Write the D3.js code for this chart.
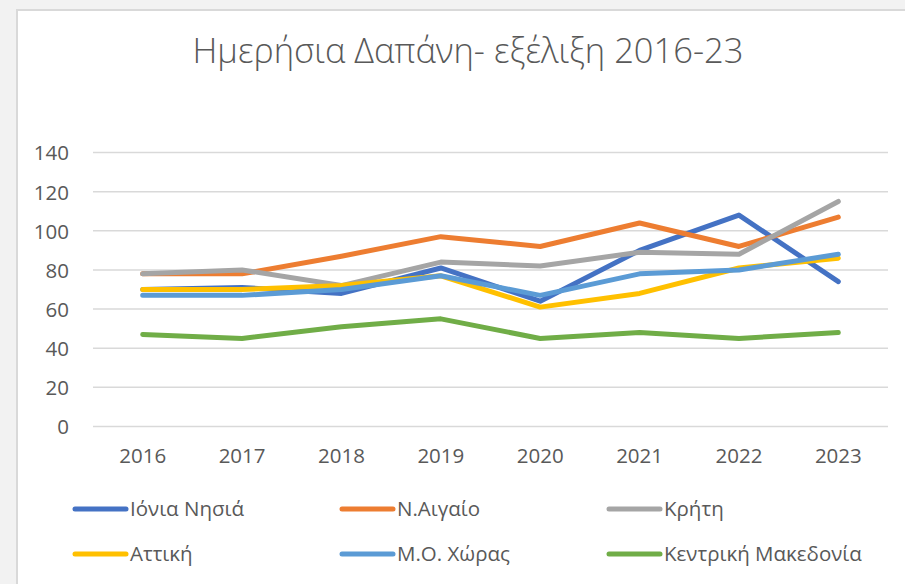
<!DOCTYPE html>
<html>
<head>
<meta charset="utf-8">
<script src="https://cdn.jsdelivr.net/npm/d3@7"></script>
<style>
  body { margin: 0; background: #f2f2f2; }
  text { font-family: "Open Sans", "Noto Sans", sans-serif; fill: #595959; }
</style>
</head>
<body>
<div id="chart"></div>
<script>

var years = [ "2016", "2017", "2018", "2019", "2020", "2021", "2022", "2023" ];
var yTicks = [ 0, 20, 40, 60, 80, 100, 120, 140 ];

var seriesNames = [ "Ιόνια Νησιά", "Ν.Αιγαίο", "Κρήτη", "Αττική", "Μ.Ο. Χώρας", "Κεντρική Μακεδονία" ];
var seriesColors = [ "#4472c4", "#ed7d31", "#a5a5a5", "#ffc000", "#5b9bd5", "#70ad47" ];

var ionia = [ 70, 71, 68, 81, 64, 90, 108, 74 ];
var naigaio = [ 78, 78, 87, 97, 92, 104, 92, 107 ];
var kriti = [ 78, 80, 72, 84, 82, 89, 88, 115 ];
var attiki = [ 70, 70, 72, 77, 61, 68, 81, 86 ];
var mochoras = [ 67, 67, 70, 77, 67, 78, 80, 88 ];
var kmakedonia = [ 47, 45, 51, 55, 45, 48, 45, 48 ];

var seriesValues = [ ionia, naigaio, kriti, attiki, mochoras, kmakedonia ];

var width = 905, height = 584;

var svg = d3.select("#chart").append("svg")
		.attr("width", width).attr("height", height);

// chart frame
svg.append("rect").attr("x", 17).attr("y", 10)
		.attr("width", width).attr("height", height)
		.attr("fill", "#ffffff").attr("stroke", "#d9d9d9").attr("stroke-width", 2);

// title
svg.append("text").attr("x", 468).attr("y", 63)
		.attr("text-anchor", "middle").style("font-size", "34.5px")
		.style("font-weight", 300)
		.text("Ημερήσια Δαπάνη- εξέλιξη 2016-23");

var x = d3.scaleBand().domain(years).range([ 93, 888 ]);
var y = d3.scaleLinear().domain([ 0, 140 ]).range([ 426.5, 152.5 ]);

// gridlines
svg.append("g").selectAll("line").data(yTicks).enter().append("line")
		.attr("x1", 93).attr("x2", 888)
		.attr("y1", function(d) { return y(d); })
		.attr("y2", function(d) { return y(d); })
		.attr("stroke", "#d9d9d9").attr("stroke-width", 1.5);

// y axis labels
var yAxis = d3.axisLeft(y).tickValues(yTicks).tickSize(0).tickPadding(0);
var gy = svg.append("g").attr("transform", "translate(69,0)").call(yAxis);
gy.select(".domain").remove();
gy.selectAll("text").style("font-size", "20.5px").attr("fill", "#595959")
		.attr("font-family", null).attr("dy", "0.36em");

// x axis labels
var xAxis = d3.axisBottom(x).tickSize(0).tickPadding(0);
var gx = svg.append("g").attr("transform", "translate(0,442)").call(xAxis);
gx.select(".domain").remove();
gx.selectAll("text").style("font-size", "20.5px").attr("fill", "#595959")
		.attr("font-family", null).attr("dy", "1em");

// lines
var line = d3.line()
		.x(function(d, i) { return x(years[i]) + x.bandwidth() / 2; })
		.y(function(d) { return y(d); });

svg.append("g").selectAll("path").data(seriesValues).enter().append("path")
		.attr("d", line)
		.attr("fill", "none")
		.attr("stroke", function(d, i) { return seriesColors[i]; })
		.attr("stroke-width", 5)
		.attr("stroke-linecap", "round")
		.attr("stroke-linejoin", "round");

// legend
var legend = svg.append("g").selectAll("g").data(seriesNames).enter().append("g")
		.attr("transform", function(d, i) {
			return "translate(" + (73 + (i % 3) * 267) + "," + (509 + Math.floor(i / 3) * 45) + ")";
		});

legend.append("line").attr("x1", 2).attr("x2", 53).attr("y1", 0).attr("y2", 0)
		.attr("stroke", function(d, i) { return seriesColors[i]; })
		.attr("stroke-width", 5).attr("stroke-linecap", "round");

legend.append("text").attr("x", 57).attr("y", 0).attr("dy", "0.36em")
		.style("font-size", "20.5px")
		.text(function(d) { return d; });

</script>
</body>
</html>
